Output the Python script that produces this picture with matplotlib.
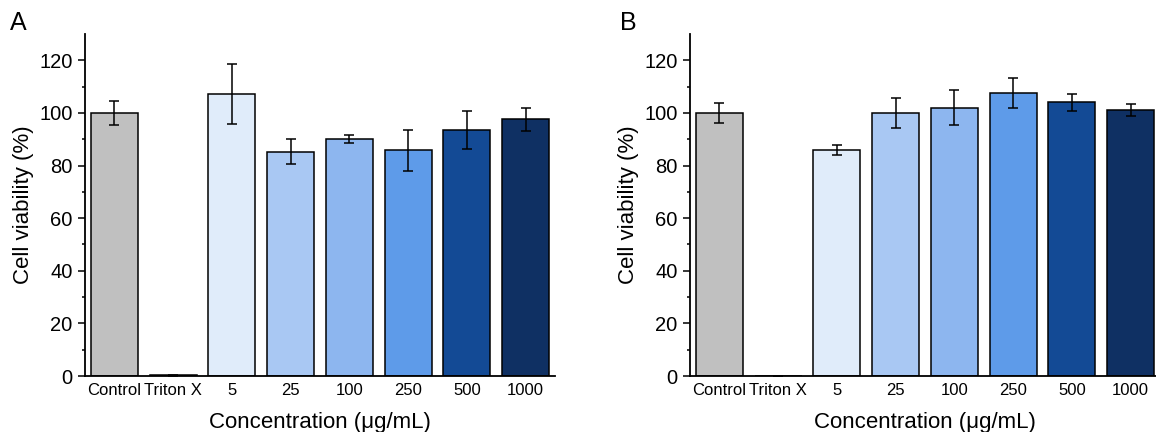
import numpy as np
import matplotlib.pyplot as plt

plt.rcParams['font.family'] = ['Liberation Sans', 'DejaVu Sans']

categories = ['Control', 'Triton X', '5', '25', '100', '250', '500', '1000']
colors = ['#c0c0c0', '#ffffff', '#e0ecfa', '#a9c8f3', '#8db6ef', '#5e9be9', '#134a95', '#0f3063']

# panel A
means_a = [100.0, 0.3, 107.2, 85.2, 90.0, 85.8, 93.6, 97.6]
errs_a = [4.5, 0.2, 11.3, 4.8, 1.5, 7.8, 7.2, 4.4]
# panel B
means_b = [100.0, 0.1, 86.0, 100.0, 102.0, 107.5, 104.0, 101.0]
errs_b = [3.8, 0.05, 1.9, 5.8, 6.7, 5.7, 3.3, 2.3]


def draw_panel(ax, means, errs):
    x = np.arange(len(categories))
    ax.bar(x, means, width=0.8, color=colors, edgecolor='black', linewidth=1.1,
           yerr=errs, capsize=3.5, error_kw={'elinewidth': 1.1, 'capthick': 1.1, 'ecolor': 'black'})
    ax.set_xlim(-0.5, 7.5)
    ax.set_ylim(0, 130)
    ax.set_yticks(np.arange(0, 121, 20))
    ax.set_yticks(np.arange(10, 130, 20), minor=True)
    ax.set_xticks(x)
    ax.set_xticklabels(categories, fontsize=12)
    ax.tick_params(axis='x', length=0, pad=5)
    ax.tick_params(axis='y', which='major', labelsize=14.5, length=5, width=1.1, pad=4)
    ax.tick_params(axis='y', which='minor', length=2.5, width=1.1)
    for s in ['top', 'right']:
        ax.spines[s].set_visible(False)
    for s in ['left', 'bottom']:
        ax.spines[s].set_linewidth(1.3)
    ax.set_xlabel('Concentration (μg/mL)', fontsize=16, labelpad=10)
    ax.set_ylabel('Cell viability (%)', fontsize=16, labelpad=4)


fig = plt.figure(figsize=(11.56, 4.32), dpi=100)
ax1 = fig.add_axes([0.0735, 0.1296, 0.4066, 0.7917])
ax2 = fig.add_axes([0.5969, 0.1296, 0.4066, 0.7917])
draw_panel(ax1, means_a, errs_a)
draw_panel(ax2, means_b, errs_b)
fig.text(10 / 1156, 1 - 30 / 432, 'A', fontsize=18, va='baseline')
fig.text(620 / 1156, 1 - 30 / 432, 'B', fontsize=18, va='baseline')
fig.savefig('out.png', dpi=100)
